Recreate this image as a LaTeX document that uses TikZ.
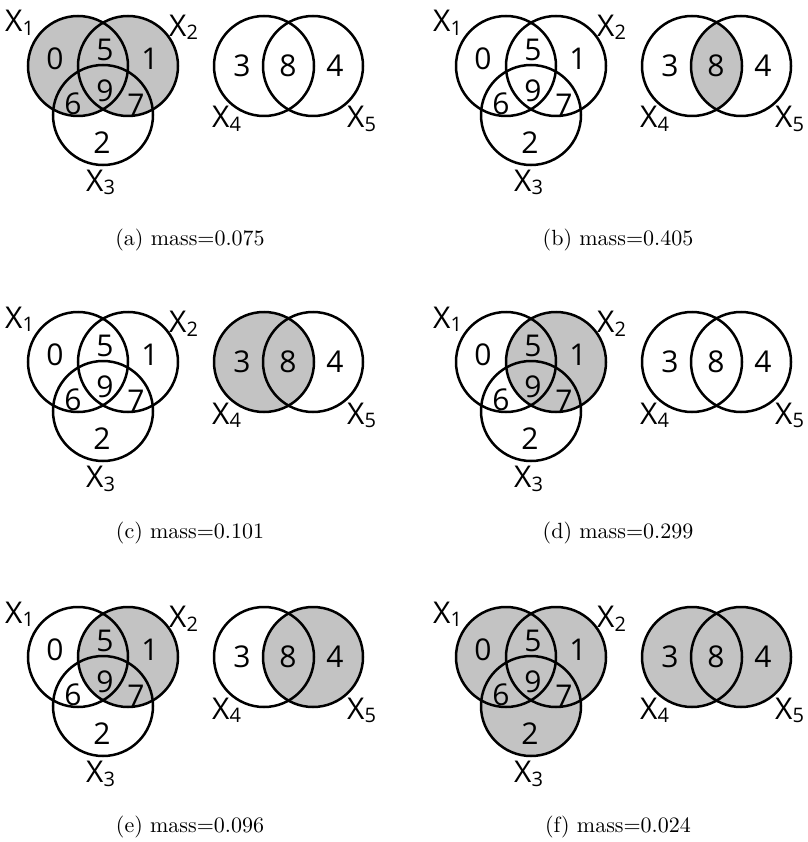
\documentclass[tikz,border=0pt]{standalone}
\usepackage{fontspec}
\setsansfont{Open Sans}
\newfontfamily\capfont{lmroman10-regular}[Extension=.otf]
\definecolor{shadegray}{RGB}{195,195,195}
\tikzset{
  venn/.style={draw=black, line width=2.5pt},
  grayfill/.style={fill=shadegray},
  num/.style={font=\sffamily\fontsize{30}{30}\selectfont, inner sep=0pt, anchor=center},
  setlab/.style={font=\sffamily\fontsize{30}{30}\selectfont, inner sep=0pt, anchor=base west},
  captext/.style={font=\capfont\fontsize{22}{26}\selectfont, inner sep=0pt, anchor=base},
}
\newcommand{\sx}[1]{X\raisebox{-3.5pt}{\fontsize{20}{20}\selectfont #1}}
\newcommand{\vpanel}[4]{%
\begin{scope}[shift={(#2,#3)}]
  \coordinate (#1c1) at (78,66);
  \coordinate (#1c2) at (128,66);
  \coordinate (#1c3) at (103,115);
  \coordinate (#1c4) at (264,66);
  \coordinate (#1c5) at (313,66);
  #4
  \draw[venn] (#1c1) circle[radius=50pt];
  \draw[venn] (#1c2) circle[radius=50pt];
  \draw[venn] (#1c3) circle[radius=50pt];
  \draw[venn] (#1c4) circle[radius=50pt];
  \draw[venn] (#1c5) circle[radius=50pt];
  \node[num] (#1n0) at (55,59) {0};
  \node[num] (#1n5) at (105,49.5) {5};
  \node[num] (#1n1) at (150,59) {1};
  \node[num] (#1n9) at (105,91) {9};
  \node[num] (#1n6) at (73,104) {6};
  \node[num] (#1n7) at (136,105) {7};
  \node[num] (#1n2) at (102,143) {2};
  \node[num] (#1n3) at (242,66) {3};
  \node[num] (#1n8) at (288,66) {8};
  \node[num] (#1n4) at (335,66) {4};
  \node[setlab] (#1x1) at (5,32) {\sx{1}};
  \node[setlab] (#1x2) at (169,36.5) {\sx{2}};
  \node[setlab] (#1x3) at (86,191.5) {\sx{3}};
  \node[setlab] (#1x4) at (212,128) {\sx{4}};
  \node[setlab] (#1x5) at (347,128) {\sx{5}};
\end{scope}}
\begin{document}
\begin{tikzpicture}[x=1pt,y=-1pt]
\useasboundingbox (0,0) rectangle (807,842);
\vpanel{a}{0}{0}{\fill[grayfill] (ac1) circle[radius=50pt] (ac2) circle[radius=50pt];}
\vpanel{b}{428}{0}{\begin{scope}\clip (bc4) circle[radius=50pt]; \fill[grayfill] (bc5) circle[radius=50pt];\end{scope}}
\vpanel{c}{0}{296}{\fill[grayfill] (cc4) circle[radius=50pt];}
\vpanel{d}{428}{296}{\fill[grayfill] (dc2) circle[radius=50pt];}
\vpanel{e}{0}{591}{\fill[grayfill] (ec2) circle[radius=50pt] (ec5) circle[radius=50pt];}
\vpanel{f}{428}{591}{\fill[grayfill] (fc1) circle[radius=50pt] (fc2) circle[radius=50pt] (fc3) circle[radius=50pt] (fc4) circle[radius=50pt] (fc5) circle[radius=50pt];}
\node[captext] (capa) at (190,245) {(a) mass=0.075};
\node[captext] (capb) at (618,245) {(b) mass=0.405};
\node[captext] (capc) at (190,538) {(c) mass=0.101};
\node[captext] (capd) at (618,538) {(d) mass=0.299};
\node[captext] (cape) at (190,832) {(e) mass=0.096};
\node[captext] (capf) at (618,832) {(f) mass=0.024};
\end{tikzpicture}
\end{document}
